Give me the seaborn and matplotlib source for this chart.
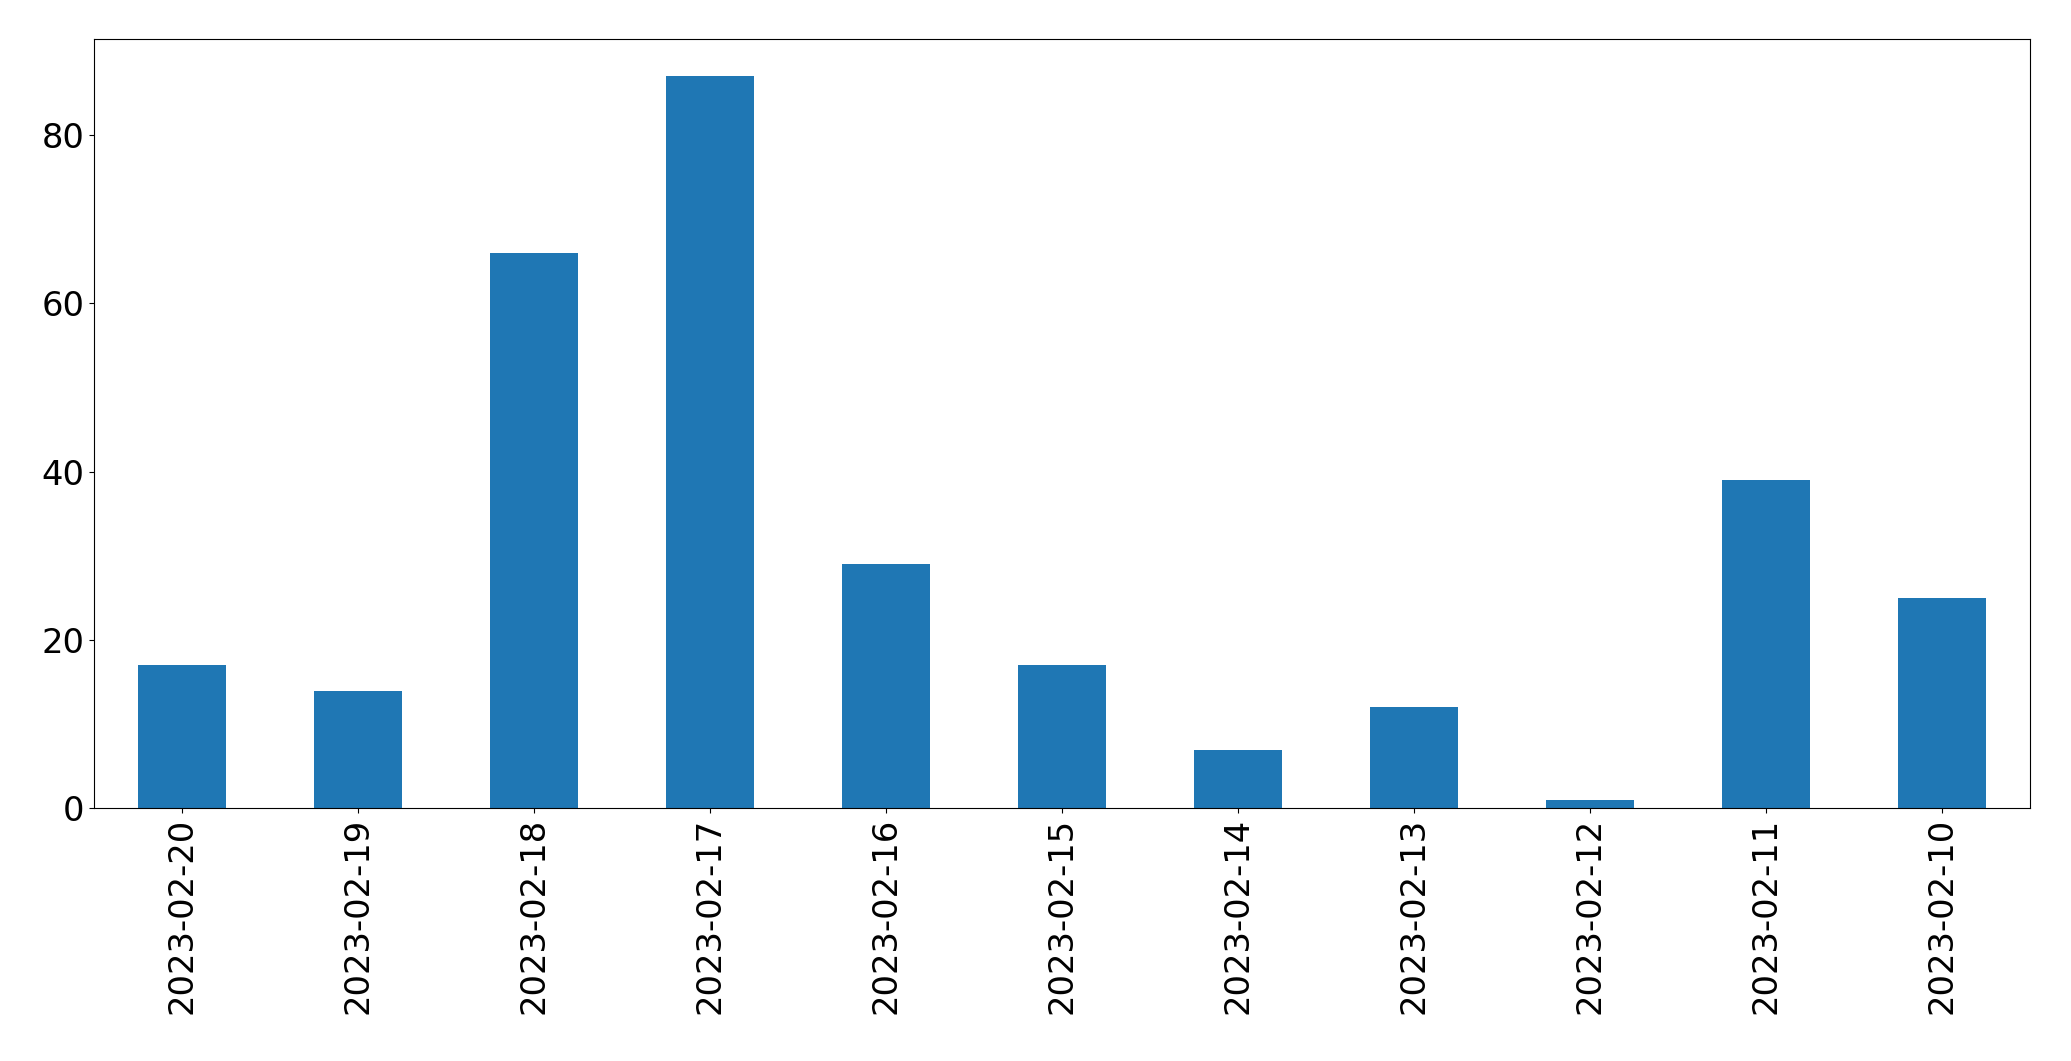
import pandas as pd
import matplotlib
matplotlib.use("Agg")
import matplotlib.pyplot as plt
import seaborn as sns

dates = ['2023-02-20', '2023-02-19', '2023-02-18', '2023-02-17', '2023-02-16',
         '2023-02-15', '2023-02-14', '2023-02-13', '2023-02-12', '2023-02-11',
         '2023-02-10']
counts = [17, 14, 66, 87, 29, 17, 7, 12, 1, 39, 25]

df = pd.DataFrame({'date': dates, 'count': counts})

fig = plt.figure(figsize=(20.71, 10.61), dpi=100)
ax = fig.add_axes([0.0454, 0.238, 0.9346, 0.725])
sns.barplot(data=df, x='date', y='count', order=dates, color='#1f77b4',
            saturation=1, width=0.5, linewidth=0, ax=ax)

ax.set_xlim(-0.5, len(dates) - 0.5)
ax.set_ylim(0, max(counts) * 1.05)
ax.set_xlabel('')
ax.set_ylabel('')
ax.tick_params(axis='both', labelsize=24.3)
ax.tick_params(axis='x', labelrotation=90)

fig.savefig('out.png', dpi=100)
